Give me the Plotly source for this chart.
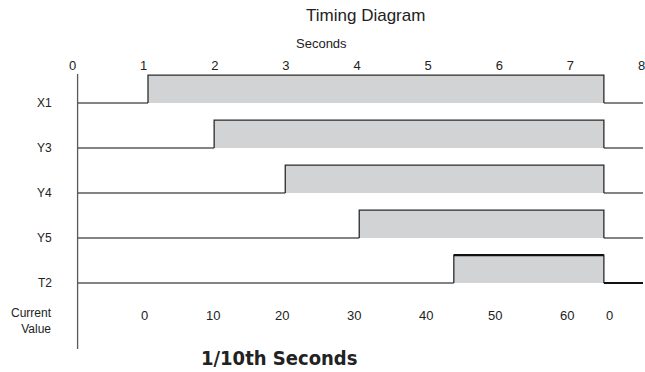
import plotly.graph_objects as go

# signals (seconds)
signals = ["X1", "Y3", "Y4", "Y5", "T2"]
rise_s = [1.06, 1.99, 2.99, 4.03, 5.36]
fall_s = [7.47, 7.47, 7.47, 7.47, 7.47]
t_start = 0.07
t_end = 8.02
pulse_h = 0.62

sec_ticks = [0, 1, 2, 3, 4, 5, 6, 7, 8]

# T2 current value (1/10th seconds)
cv_pos = [1.01, 1.97, 2.95, 3.96, 4.97, 5.94, 6.95, 7.55]
cv_text = ["0", "10", "20", "30", "40", "50", "60", "0"]

FONT = "Liberation Sans, Arial, Helvetica, sans-serif"
FILL = "#d1d3d4"
DARK = "#2b2b2b"
BASE = "#5a5a5a"

fig = go.Figure()

for i, (name, r, f) in enumerate(zip(signals, rise_s, fall_s)):
    y0 = -i
    y1 = -i + pulse_h
    # shaded pulse
    fig.add_trace(go.Scatter(x=[r, r, f, f, r], y=[y0, y1, y1, y0, y0],
                             mode="lines", fill="toself", fillcolor=FILL,
                             line=dict(width=0), hoverinfo="skip", showlegend=False))
    # low level before/after
    fig.add_trace(go.Scatter(x=[t_start, r, None, f, t_end], y=[y0, y0, None, y0, y0],
                             mode="lines", line=dict(color=BASE, width=1.3),
                             hoverinfo="skip", showlegend=False))
    # high part of the waveform
    fig.add_trace(go.Scatter(x=[r, r, f, f], y=[y0, y1, y1, y0],
                             mode="lines", line=dict(color=DARK, width=1.3),
                             hoverinfo="skip", showlegend=False))

# T2 emphasised segments
iT = signals.index("T2")
fig.add_trace(go.Scatter(x=[rise_s[iT], fall_s[iT]], y=[-iT + pulse_h] * 2,
                         mode="lines", line=dict(color="#111111", width=2.2),
                         hoverinfo="skip", showlegend=False))
fig.add_trace(go.Scatter(x=[fall_s[iT], t_end], y=[-iT, -iT],
                         mode="lines", line=dict(color="#111111", width=2.2),
                         hoverinfo="skip", showlegend=False))

annotations = []
for i, name in enumerate(signals):
    annotations.append(dict(x=-0.26, y=-i, xref="x", yref="y", text=name,
                            showarrow=False, xanchor="right", yanchor="middle",
                            font=dict(size=12, color="#222")))
annotations.append(dict(x=-0.26, y=-4.85, xref="x", yref="y", text="Current<br>Value",
                        showarrow=False, xanchor="right", yanchor="middle", align="right",
                        font=dict(size=12, color="#222")))
for xp, tx in zip(cv_pos, cv_text):
    annotations.append(dict(x=xp, y=-4.73, xref="x", yref="y", text=tx,
                            showarrow=False, xanchor="center", yanchor="middle",
                            font=dict(size=13, color="#222")))
annotations.append(dict(x=2.9, y=-5.66, xref="x", yref="y", text="<b>1/10th Seconds</b>",
                        showarrow=False, xanchor="center", yanchor="middle",
                        font=dict(size=20, color="#222",
                                  family="DejaVu Sans Condensed, Liberation Sans Narrow, sans-serif")))
annotations.append(dict(x=0.5, y=(372 - 43) / 298, xref="paper", yref="paper", text="Seconds",
                        showarrow=False, xanchor="center", yanchor="middle",
                        font=dict(size=13, color="#222")))

fig.update_layout(
    width=645, height=372,
    margin=dict(l=0, r=0, t=74, b=0),
    paper_bgcolor="white", plot_bgcolor="white",
    font=dict(family=FONT, color="#222"),
    title=dict(text="Timing Diagram", x=0.567, xanchor="center",
               y=1 - 15 / 372, yanchor="middle", font=dict(size=17, color="#222")),
    showlegend=False,
    annotations=annotations,
    shapes=[dict(type="line", xref="x", yref="y", x0=t_start, x1=t_start,
                 y0=0.644, y1=-5.467, line=dict(color=BASE, width=1.3))],
)

fig.update_xaxes(range=[-1.021, 8.02], side="top", tickvals=sec_ticks,
                 ticktext=[str(v) for v in sec_ticks], ticks="",
                 ticklabeloverflow="allow",
                 showgrid=False, zeroline=False, showline=False,
                 tickfont=dict(size=13, color="#222"), fixedrange=True)
fig.update_yaxes(range=[-5.978, 0.644], showgrid=False, zeroline=False,
                 showline=False, showticklabels=False, fixedrange=True)

fig.write_html("out.html", post_script="document.body.style.margin='0';",
               config={"displayModeBar": False})
